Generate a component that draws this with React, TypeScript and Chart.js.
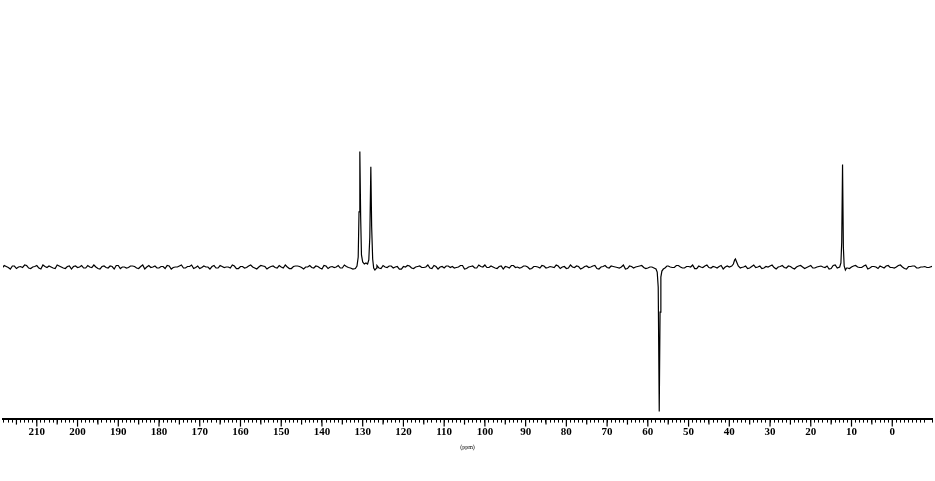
import React, { useEffect, useRef } from "react";
import { Chart, registerables } from "chart.js";

Chart.register(...registerables);

// x axis range (ppm), reversed like an NMR spectrum
const ppmMax = 218.3;
const ppmMin = -9.76;
const tickLabelsPpm = [210, 200, 190, 180, 170, 160, 150, 140, 130, 120, 110, 100, 90, 80, 70, 60, 50, 40, 30, 20, 10, 0];

// Baseline noise, one value per ppm from 219 down to -10
const noiseStartPpm = 219;
const baselineNoise = [
  0.5, 1.5, -0.5, 1, -1.5, 0.5, 2, -1, 0, 1.5, -2, 0.5, 1, -1, 2, 0, -1.5, 1, 0.5, -0.5, 1.5,
  -1, 0, 2, -1.5, 0.5, -0.5, 1, -2, 1.5, 0, -1, 1, 0.5, -1.5, 2, 0, -0.5, 1, -1, 0.5,
  1.5, -2, 0, 1, -1, 0.5, 2, -0.5, -1.5, 1, 0, 0.5, -1, 1.5, -0.5, 0, 2, -1.5, 0.5, -1,
  1, 0, -2, 1.5, 0.5, -0.5, 1, -1, 0, 2, -1.5, 0.5, 1, -0.5, 0, 1.5, -1, 0.5, -2, 1,
  0, -0.5, 1.5, -1, 0.5, 0, 1, -1.5, 2, -0.5, 0.5, 0, -1, 1.5, -0.5, 1, 0, -2, 0.5, 1.5,
  -1, 0, 1, -0.5, 2, -1.5, 0.5, 0, -1, 1, 0.5, -0.5, 1.5, -2, 0, 1, -1, 0.5, 2, -0.5,
  0, -1.5, 1, 0.5, -1, 1.5, 0, -0.5, 1, -2, 0.5, 0, 1.5, -1, 0.5, -0.5, 1, 0, -1.5, 2,
  -0.5, 0.5, -1, 1, 0, 1.5, -2, 0.5, -0.5, 1, 0, -1, 2, -1.5, 0.5, 0, 1, -0.5, -1, 1.5,
  0, 0.5, -2, 1, -0.5, 1.5, 0, -1, 0.5, 2, -1.5, 0, 1, -0.5, 0.5, -1, 1.5, 0, -2, 1,
  0.5, -0.5, 1, -1, 2, 0, -1.5, 0.5, 1, -0.5, 0, 1.5, -1, 0.5, -2, 1, 0, -0.5, 1.5, -1,
  0.5, 0, 1, -1.5, 2, -0.5, 0.5, -1, 0, 1.5, -0.5, 1, -2, 0.5, 0, 1, -1, 1.5, -0.5, 0,
  2, -1.5, 0.5, 1, -1, 0, 0.5, -0.5, 1
];
// Second set of noise values, at the half-ppm positions from 218.5 down to -9.5
const halfStepNoise = [
  -1, 0.5, -2, 1, 0, -0.5, 1.5, -1.5, 0.5, -1, 2, -0.5, 0, -1.5, 1, -1, 0.5, -2, 1, 0,
  -1, 1.5, -0.5, 0, -2, 1, -1, 0.5, 1.5, -1.5, 0, -0.5, 1, -1, 0.5, -2, 1.5, 0, -1, 0.5,
  -1.5, 1, -0.5, 0, 2, -1, 0.5, -1.5, 1, -0.5, 0, -2, 1.5, -1, 0.5, 0, -1, 1, -1.5, 0.5,
  -0.5, 2, -1, 0, 1, -2, 0.5, -0.5, 1.5, -1, 0, -1.5, 1, 0.5, -2, 0, -0.5, 1, -1, 1.5,
  -1.5, 0.5, 0, -1, 2, -0.5, 0, -2, 1, -1, 0.5, -0.5, 1.5, -1.5, 0, 1, -1, 0.5, -2, 0,
  1, -1.5, 0.5, -0.5, 0, -1, 1.5, -2, 0.5, 1, -0.5, -1, 0, 1.5, -1.5, 0.5, -1, 2, 0, -0.5,
  1, -1, 0.5, -2, 0, 1.5, -0.5, -1, 1, 0, -1.5, 0.5, -1, 1, -0.5, 0, 2, -1.5, 0.5, -1,
  0, 1, -2, 0.5, -0.5, 1, -1.5, 0, 1.5, -1, 0.5, -0.5, 0, -2, 1, -1, 0.5, 1.5, -1.5, 0,
  -1, 0.5, 1, -2, 0, -0.5, 1.5, -1, 0.5, 0, -1.5, 1, -0.5, 2, -1, 0, 0.5, -2, 1, -0.5,
  -1, 1.5, 0, -1.5, 0.5, -0.5, 1, -1, 0, 2, -2, 0.5, -0.5, 1, -1, 0, 1.5, -1.5, 0.5, -1,
  0, 1, -0.5, -2, 1.5, 0, -1, 0.5, -1.5, 1, 0, -0.5, 2, -1, 0.5, -1.5, 0, 1, -0.5, -1,
  1.5, 0, -2, 0.5, 1, -1, 0, -0.5
];

// Peak regions: [from, to] in ppm, with hand-read points (ppm, intensity)
const peakRegions = [
  [133.0, 126.6],
  [59.0, 55.3],
  [40.0, 37.3],
  [13.5, 11.2],
];
const peakPpm = [
  133.0, 132.4, 131.8, 131.4, 131.1, 130.9, 130.7, 130.5, 130.3, 130.0, 129.6, 129.2, 128.8, 128.5, 128.25, 128.0, 127.8, 127.55, 127.3, 127.0, 126.6,
  59.0, 58.5, 58.0, 57.7, 57.45, 57.2, 57.0, 56.8, 56.55, 56.2, 55.8, 55.3,
  40.0, 39.4, 39.0, 38.7, 38.5, 38.2, 37.8, 37.3,
  13.5, 12.9, 12.6, 12.4, 12.2, 12.0, 11.8, 11.5, 11.2,
];
const peakIntensity = [
  -1, -2, -1.5, 1, 10, 55, 115, 50, 12, 5, 3, 4, 3, 7, 30, 100, 40, 8, -1, -3, -1,
  0, -1, -2, -5, -20, -144, -45, -10, -4, -2, -1, 1,
  0, 1, 3, 7, 8, 5, 1, -1,
  -1, 0, 4, 25, 102, 20, 1, -3, -1,
];

function buildSpectrum() {
  const pts: { x: number; y: number }[] = [];
  const outsidePeaks = (x: number) => !peakRegions.some(([a, b]) => x <= a && x >= b);
  baselineNoise.forEach((v, i) => {
    const x = noiseStartPpm - i;
    if (outsidePeaks(x)) pts.push({ x, y: v });
  });
  halfStepNoise.forEach((v, i) => {
    const x = noiseStartPpm - 0.5 - i;
    if (outsidePeaks(x)) pts.push({ x, y: v });
  });
  peakPpm.forEach((x, i) => pts.push({ x, y: peakIntensity[i] }));
  pts.sort((a, b) => b.x - a.x);
  return pts;
}

const majorTicks = {
  id: "majorTicks",
  afterDraw(chart: any) {
    const xs = chart.scales.x;
    const ctx = chart.ctx;
    const y0 = chart.chartArea.bottom;
    ctx.save();
    ctx.strokeStyle = "#000";
    ctx.lineWidth = 1.2;
    for (let v = 0; v <= 215; v += 5) {
      const px = xs.getPixelForValue(v);
      const len = v % 10 === 0 ? 8 : 6;
      ctx.beginPath();
      ctx.moveTo(px, y0);
      ctx.lineTo(px, y0 + len);
      ctx.stroke();
    }
    ctx.restore();
  },
};

export default function App() {
  const ref = useRef<HTMLCanvasElement>(null);
  useEffect(() => {
    if (!ref.current) return;
    const chart = new Chart(ref.current, {
      type: "line",
      data: {
        datasets: [
          {
            data: buildSpectrum(),
            borderColor: "#000",
            borderWidth: 1.2,
            pointRadius: 0,
            tension: 0,
            fill: false,
          },
        ],
      },
      options: {
        animation: false,
        responsive: false,
        devicePixelRatio: 1,
        layout: { padding: { left: -3, right: -3, top: 0, bottom: 30 } },
        plugins: { legend: { display: false }, tooltip: { enabled: false } },
        scales: {
          x: {
            type: "linear",
            reverse: true,
            min: ppmMin,
            max: ppmMax,
            border: { display: true, color: "#000", width: 2 },
            grid: { drawOnChartArea: false, drawTicks: true, tickLength: 4, color: "#000", tickWidth: 1 },
            ticks: {
              stepSize: 1,
              autoSkip: false,
              maxRotation: 0,
              padding: 3,
              color: "#000",
              font: { family: "Liberation Serif", size: 11, weight: "bold" },
              callback: (v: any) => (tickLabelsPpm.includes(Number(v)) ? String(v) : ""),
            },
            title: {
              display: true,
              text: "(ppm)",
              color: "#000",
              font: { family: "Liberation Serif", size: 6 },
              padding: { top: 2, bottom: 0 },
            },
          },
          y: { display: false, min: -151, max: 266 },
        },
      },
      plugins: [majorTicks],
    });
    return () => chart.destroy();
  }, []);
  return (
    <div style={{ position: "absolute", left: 0, top: 0, width: 935, height: 481, background: "#fff" }}>
      <canvas ref={ref} width={935} height={481} />
    </div>
  );
}
